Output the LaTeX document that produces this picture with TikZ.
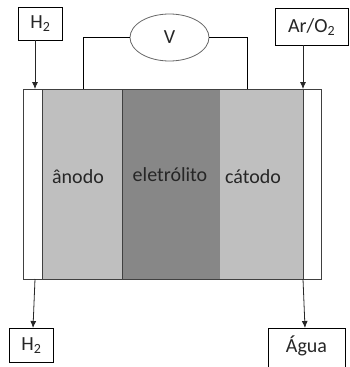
\documentclass[tikz,border=0pt]{standalone}
\usepackage{fontspec}
\setmainfont{Carlito}
\usetikzlibrary{arrows.meta,shapes.geometric}
\definecolor{lightg}{HTML}{BFBFBF}
\definecolor{darkg}{HTML}{878787}
\definecolor{edgeg}{HTML}{404040}
\definecolor{txt}{HTML}{262626}
\tikzset{
  lbl/.style={font=\fontsize{20}{23}\selectfont, text=txt},
  box/.style={draw=black, line width=0.8pt, fill=white, inner sep=0pt, anchor=north west, lbl},
  layer/.style={draw=edgeg, line width=0.8pt, inner sep=0pt, anchor=north west, minimum height=190pt},
  arr/.style={draw=black!85, line width=0.8pt, -{Latex[length=7pt,width=6pt]}},
  wire/.style={draw=black, line width=0.8pt}
}
\begin{document}
\begin{tikzpicture}[x=1pt,y=-1pt]
\useasboundingbox (0,0) rectangle (349,367);
% cell layers
\node[layer, fill=white, minimum width=18.5pt] (lstrip) at (23,89) {};
\node[layer, fill=lightg, minimum width=80.5pt] (anode) at (41.5,89) {};
\node[layer, fill=darkg, minimum width=98pt] (elec) at (122,89) {};
\node[layer, fill=lightg, minimum width=83pt, draw=none] (cath) at (220,89) {};
\draw[edgeg, line width=0.8pt] (cath.north west) -- (cath.north east) (cath.south west) -- (cath.south east);
\node[layer, fill=white, minimum width=17.5pt] (rstrip) at (303,89) {};
% layer labels
\node[lbl] (tan) at (78,177) {ânodo};
\node[lbl] (tel) at (170,175) {eletrólito};
\node[lbl] (tca) at (253,177) {cátodo};
% voltmeter
\node[draw=black!60, line width=0.8pt, ellipse, minimum width=79pt, minimum height=47pt, inner sep=0pt, lbl, fill=white] (V) at (169.5,37.5) {V};
\coordinate (wl) at (83,89);
\coordinate (wr) at (247,89);
\draw[wire] (V.west) -| (wl);
\draw[wire] (V.east) -| (wr);
% gas boxes
\node[box, minimum width=43.4pt, minimum height=33.3pt] (h2in) at (18.3,6.7) {H\textsubscript{2}};
\node[box, minimum width=72.5pt, minimum height=37pt] (arin) at (275,8) {Ar/O\textsubscript{2}};
\node[box, minimum width=44pt, minimum height=34pt] (h2out) at (9,328) {H\textsubscript{2}};
\node[box, minimum width=77pt, minimum height=45pt] (agua) at (267.7,328) {};
\node[lbl] (aguat) at (306.5,346) {Água};
% arrows
\coordinate (a1s) at (35,40.0);
\coordinate (a1e) at (35,89);
\coordinate (a2s) at (303,45);
\coordinate (a2e) at (303,89);
\coordinate (a3s) at (35,279);
\coordinate (a3e) at (33,328);
\coordinate (a4s) at (303,279);
\coordinate (a4e) at (305,328);
\draw[arr] (a1s) -- (a1e);
\draw[arr] (a2s) -- (a2e);
\draw[arr] (a3s) -- (a3e);
\draw[arr] (a4s) -- (a4e);
\end{tikzpicture}
\end{document}
